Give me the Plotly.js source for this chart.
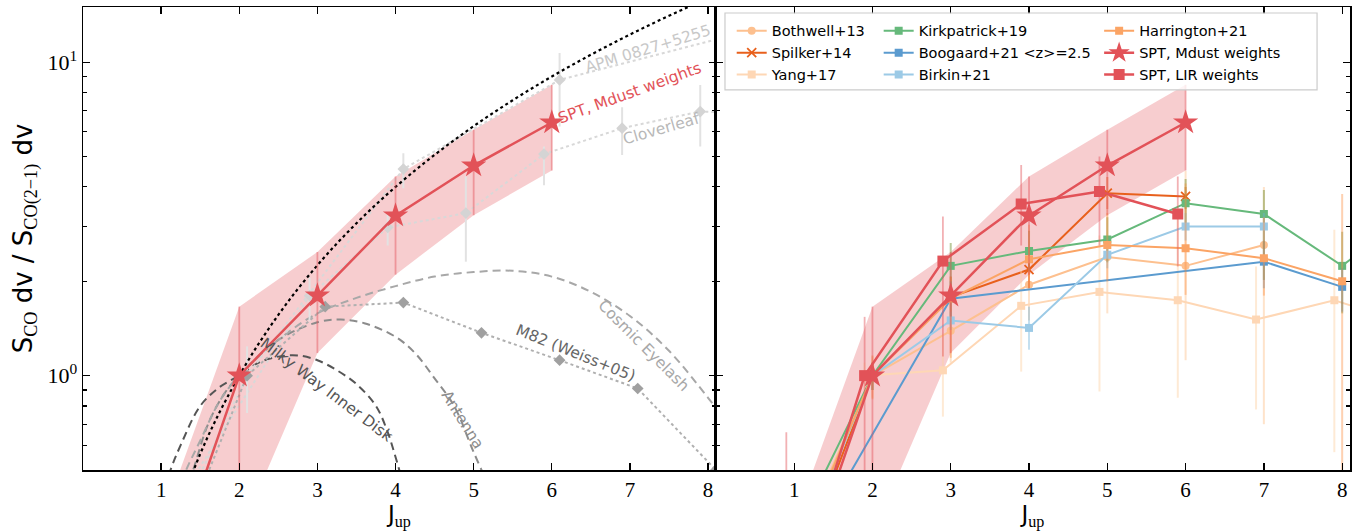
<!DOCTYPE html>
<html>
<head>
<meta charset="utf-8">
<script src="https://cdn.plot.ly/plotly-3.0.1.min.js"></script>
<style>html,body{margin:0;padding:0;background:#fff;}#chart{width:1359px;height:531px;}</style>
</head>
<body>
<div id="chart"></div>
<script>
// ---------------- DATA ----------------
// x tick labels
const xTicks = [1, 2, 3, 4, 5, 6, 7, 8];

// Thermalized (dotted black) curve
const thermJ   = [1, 1.5, 2, 2.5, 3, 3.5, 4, 4.5, 5, 5.5, 6, 6.5, 7, 7.5, 8, 8.5];
const thermVal = [0.25, 0.5625, 1, 1.5625, 2.25, 3.0625, 4, 5.0625, 6.25, 7.5625, 9, 10.5625, 12.25, 14.0625, 16, 18.0625];

// Milky Way inner disk (dashed, dark grey)
const mwJ   = [1.0, 1.12, 1.25, 1.5, 1.75, 2.0, 2.25, 2.5, 2.75, 3.0, 3.25, 3.5, 3.75, 3.9, 4.0, 4.1];
const mwVal = [0.40, 0.50, 0.60, 0.80, 0.92, 1.00, 1.10, 1.15, 1.16, 1.12, 1.04, 0.94, 0.80, 0.66, 0.55, 0.45];

// Antenna (dashed, mid grey)
const antJ   = [1.3, 1.41, 1.6, 1.8, 2.0, 2.5, 3.0, 3.3, 3.6, 4.0, 4.25, 4.5, 4.75, 5.0, 5.2];
const antVal = [0.42, 0.50, 0.70, 0.87, 1.00, 1.30, 1.48, 1.51, 1.47, 1.33, 1.18, 0.98, 0.80, 0.57, 0.44];

// Cosmic Eyelash (dashed, light grey)
const eyeJ   = [1.2, 1.32, 1.5, 1.75, 2.0, 2.5, 3.0, 3.5, 4.0, 4.5, 5.0, 5.5, 6.0, 6.5, 7.0, 7.5, 8.0, 8.3];
const eyeVal = [0.42, 0.50, 0.62, 0.83, 1.00, 1.30, 1.58, 1.77, 1.93, 2.07, 2.14, 2.16, 2.07, 1.85, 1.55, 1.20, 0.85, 0.68];

// M82 (Weiss+05)
const m82J   = [1.1, 2.1, 3.1, 4.1, 5.1, 6.1, 7.1, 8.1];
const m82Val = [0.24, 1.0, 1.66, 1.71, 1.37, 1.12, 0.91, 0.50];

// APM 0827+5255
const apmJ   = [1.1, 2.1, 4.1, 6.1, 9.1];
const apmVal = [0.30, 1.0, 4.56, 8.78, 13.7];
const apmHi  = [0.35, 1.24, 5.12, 10.7, 15.5];
const apmLo  = [0.25, 0.76, 3.96, 6.23, 12.0];

// Cloverleaf
const cloJ   = [0.9, 2.9, 3.9, 4.9, 5.9, 6.9, 7.9, 8.9];
const cloVal = [0.30, 1.80, 2.97, 3.30, 5.09, 6.16, 6.96, 6.80];
const cloHi  = [0.35, 2.05, 3.30, 4.32, 5.38, 7.18, 8.45, 8.0];
const cloLo  = [0.25, 1.49, 2.60, 2.31, 4.05, 5.06, 5.38, 5.8];

// SPT, Mdust weights
const sptMJ   = [1, 2, 3, 4, 5, 6];
const sptMVal = [0.19, 1.0, 1.80, 3.24, 4.68, 6.42];
const sptMHi  = [0.34, 1.66, 2.48, 4.32, 6.09, 8.47];
const sptMLo  = [0.05, 0.31, 1.18, 2.10, 3.25, 4.51];

// SPT, LIR weights
const sptLJ   = [0.9, 1.9, 2.9, 3.9, 4.9, 5.9];
const sptLVal = [0.16, 1.0, 2.32, 3.53, 3.87, 3.28];
const sptLHi  = [0.66, 1.54, 3.22, 4.70, 5.00, 4.32];
const sptLLo  = [0.05, 0.30, 1.15, 2.60, 2.60, 2.23];

// Bothwell+13
const botJ   = [1, 2, 3, 4, 5, 6, 7];
const botVal = [0.27, 1.0, 1.39, 1.95, 2.39, 2.24, 2.61];
const botHi  = [0.40, 1.15, 1.70, 2.50, 3.40, 4.50, 4.00];
const botLo  = [0.18, 0.85, 1.10, 1.50, 1.58, 1.12, 0.70];

// Spilker+14
const spiJ   = [1, 2, 3, 4, 5, 6];
const spiVal = [0.22, 1.0, 1.78, 2.18, 3.82, 3.73];
const spiHi  = [0.26, 1.10, 2.07, 2.50, 4.30, 4.00];
const spiLo  = [0.18, 0.90, 1.50, 1.90, 3.40, 3.40];

// Yang+17
const yanJ   = [1.9, 2.9, 3.9, 4.9, 5.9, 6.9, 7.9, 8.9];
const yanVal = [1.0, 1.04, 1.67, 1.85, 1.74, 1.51, 1.74, 1.45];
const yanHi  = [1.10, 1.37, 2.30, 2.80, 3.20, 2.23, 2.92, 2.50];
const yanLo  = [0.90, 0.74, 1.03, 0.89, 0.85, 0.78, 0.57, 0.60];

// Kirkpatrick+19
const kirJ   = [1, 2, 3, 4, 5, 6, 7, 8, 9];
const kirVal = [0.31, 1.0, 2.24, 2.50, 2.72, 3.55, 3.28, 2.24, 3.5];
const kirHi  = [0.35, 1.10, 2.65, 2.90, 3.20, 4.24, 3.91, 2.88, 4.0];
const kirLo  = [0.27, 0.90, 1.90, 2.15, 2.30, 3.00, 2.02, 1.58, 3.0];

// Boogaard+21 <z>=2.5
const booJ   = [1, 3, 7, 8];
const booVal = [0.24, 1.76, 2.31, 1.92];
const booHi  = [0.30, 2.00, 2.70, 2.20];
const booLo  = [0.20, 1.50, 1.90, 1.60];

// Birkin+21
const birJ   = [1, 2, 3, 4, 5, 6, 7];
const birVal = [0.25, 1.0, 1.50, 1.42, 2.43, 2.99, 2.99];
const birHi  = [0.30, 1.10, 1.60, 1.66, 2.70, 3.30, 3.30];
const birLo  = [0.20, 0.90, 1.40, 1.21, 2.20, 2.70, 2.70];

// Harrington+21
const harJ   = [1, 2, 3, 4, 5, 6, 7, 8];
const harVal = [0.26, 1.0, 1.76, 2.35, 2.61, 2.55, 2.37, 2.00];
const harHi  = [0.35, 1.16, 2.07, 3.03, 3.30, 4.10, 3.20, 3.80];
const harLo  = [0.20, 0.84, 1.14, 2.00, 2.00, 1.81, 1.80, 0.45];

// ---------------- HELPERS ----------------
const SANS = '"DejaVu Sans", sans-serif';
const SERIF = '"Liberation Serif", "DejaVu Serif", serif';
const RED = '#e25258';
function errY(v, hi, lo, color, th) {
  return {type: 'data', symmetric: false,
    array: v.map((d, i) => hi[i] - d), arrayminus: v.map((d, i) => d - lo[i]),
    color: color, thickness: th || 1.6, width: 0};
}
function band(xa, ya) {
  return {x: sptMJ.concat(sptMJ.slice().reverse()),
    y: sptMHi.concat(sptMLo.slice().reverse()),
    xaxis: xa, yaxis: ya, mode: 'lines', fill: 'toself',
    fillcolor: 'rgba(228,90,96,0.3)', line: {width: 0}, showlegend: false, hoverinfo: 'skip'};
}
function curve(x, y, color, dash, width) {
  return {x: x, y: y, xaxis: 'x', yaxis: 'y', mode: 'lines',
    line: {color: color, dash: dash, width: width || 2, shape: 'spline'}, showlegend: false};
}
function comp(name, x, y, hi, lo, color, sym, errColor, legend, msize) {
  return {x: x, y: y, xaxis: 'x2', yaxis: 'y2', mode: 'lines+markers', name: name,
    legend: legend, line: {color: color, width: 2},
    marker: {color: color, symbol: sym, size: msize || 8,
      line: {color: color, width: sym === 'x-thin' ? 1.8 : 0}},
    error_y: errY(y, hi, lo, errColor, 2)};
}

const traces = [];
// ---- left panel ----
traces.push(band('x', 'y'));
traces.push(curve(mwJ, mwVal, '#555555', '8px,5px', 2));
traces.push(curve(antJ, antVal, '#8c8c8c', '8px,5px', 2));
traces.push(curve(eyeJ, eyeVal, '#a8a8a8', '8px,5px', 2));
traces.push({x: cloJ, y: cloVal, xaxis: 'x', yaxis: 'y', mode: 'lines+markers', showlegend: false,
  line: {color: '#d8d8d8', dash: 'dot', width: 2},
  marker: {symbol: 'diamond', size: 9, color: '#d4d4d4'},
  error_y: errY(cloVal, cloHi, cloLo, '#e2e2e2', 2)});
traces.push({x: apmJ, y: apmVal, xaxis: 'x', yaxis: 'y', mode: 'lines+markers', showlegend: false,
  line: {color: '#d8d8d8', dash: 'dot', width: 2},
  marker: {symbol: 'diamond', size: 9, color: '#d4d4d4'},
  error_y: errY(apmVal, apmHi, apmLo, '#e2e2e2', 2)});
traces.push({x: m82J, y: m82Val, xaxis: 'x', yaxis: 'y', mode: 'lines+markers', showlegend: false,
  line: {color: '#b0b0b0', dash: 'dot', width: 2},
  marker: {symbol: 'diamond', size: 9, color: '#a0a0a0'}});
traces.push(curve(thermJ, thermVal, '#000000', 'dot', 2.2));
traces.push({x: sptMJ, y: sptMVal, xaxis: 'x', yaxis: 'y', mode: 'lines+markers', showlegend: false,
  line: {color: RED, width: 2.5},
  marker: {symbol: 'star', size: 19, color: RED},
  error_y: errY(sptMVal, sptMHi, sptMLo, 'rgba(226,82,88,0.45)', 1.8)});

// ---- right panel ----
traces.push(band('x2', 'y2'));
traces.push(comp('Bothwell+13', botJ, botVal, botHi, botLo, '#fdc08f', 'circle', 'rgba(253,174,107,0.35)', 'legend'));
traces.push(comp('Spilker+14', spiJ, spiVal, spiHi, spiLo, '#e8601c', 'x-thin', 'rgba(230,85,13,0.5)', 'legend', 9));
traces.push(comp('Yang+17', yanJ, yanVal, yanHi, yanLo, '#fed7b5', 'square', 'rgba(253,208,162,0.45)', 'legend'));
traces.push(comp('Kirkpatrick+19', kirJ, kirVal, kirHi, kirLo, '#66b97b', 'square', 'rgba(120,150,60,0.5)', 'legend2'));
traces.push(comp('Boogaard+21 <z>=2.5', booJ, booVal, booHi, booLo, '#5b9bcf', 'square', 'rgba(49,130,189,0.4)', 'legend2'));
traces.push(comp('Birkin+21', birJ, birVal, birHi, birLo, '#9ccae6', 'square', 'rgba(107,174,214,0.4)', 'legend2'));
traces.push(comp('Harrington+21', harJ, harVal, harHi, harLo, '#fba465', 'square', 'rgba(253,141,60,0.4)', 'legend3'));
traces.push({x: sptMJ, y: sptMVal, xaxis: 'x2', yaxis: 'y2', mode: 'lines+markers', name: 'SPT, Mdust weights',
  legend: 'legend3', line: {color: RED, width: 2.5},
  marker: {symbol: 'star', size: 19, color: RED},
  error_y: errY(sptMVal, sptMHi, sptMLo, 'rgba(226,82,88,0.45)', 1.8)});
traces.push({x: sptLJ, y: sptLVal, xaxis: 'x2', yaxis: 'y2', mode: 'lines+markers', name: 'SPT, LIR weights',
  legend: 'legend3', line: {color: RED, width: 2.5},
  marker: {symbol: 'square', size: 11, color: RED},
  error_y: errY(sptLVal, sptLHi, sptLLo, 'rgba(226,82,88,0.45)', 1.8)});

// ---------------- LAYOUT ----------------
const yRange = [Math.log10(0.5), Math.log10(15)];
const minorVals = [0.5, 0.6, 0.7, 0.8, 0.9, 2, 3, 4, 5, 6, 7, 8, 9];
function xax(domain, anchor) {
  return {domain: domain, anchor: anchor, range: [0, 8.1], tickmode: 'array', tickvals: xTicks,
    ticktext: xTicks.map(String), ticks: 'inside', ticklen: 7, tickwidth: 1.3, tickcolor: '#000',
    showline: true, linecolor: '#000', linewidth: 1.5, mirror: 'ticks', showgrid: false, zeroline: false,
    tickfont: {family: SERIF, size: 21, color: '#000'},
    title: {text: 'J<sub><span style="font-family:Liberation Serif">up</span></sub>', font: {family: SANS, size: 23, color: '#000'}, standoff: 4}};
}
function yax(anchor, labels) {
  const a = {anchor: anchor, type: 'log', range: yRange, tickmode: 'array', tickvals: [1, 10],
    showticklabels: labels, ticks: 'inside', ticklen: 7, tickwidth: 1.3, tickcolor: '#000',
    minor: {tickmode: 'array', tickvals: minorVals, ticks: 'inside', ticklen: 4, tickwidth: 1.1, tickcolor: '#000', showgrid: false},
    showline: true, linecolor: '#000', linewidth: 1.5, mirror: 'ticks', showgrid: false, zeroline: false,
    tickfont: {family: SERIF, size: 22, color: '#000'}};
  if (labels) a.ticktext = ['10<sup>0</sup>', '10<sup>1</sup>'];
  return a;
}
const ya = yax('x', true);
ya.title = {text: 'S<sub><span style="font-family:Liberation Serif">CO</span></sub> dv / S<sub><span style="font-family:Liberation Serif">CO(2−1)</span></sub> dv', font: {family: SANS, size: 26, color: '#000'}, standoff: 7};
const ya2 = yax('x2', false);

function ann(text, x, yv, angle, color, size) {
  return {text: text, x: x, y: Math.log10(yv), xref: 'x', yref: 'y', showarrow: false,
    textangle: angle, font: {family: SANS, size: size || 15, color: color}};
}
const annotations = [
  ann('APM 0827+5255', 7.23, 11.0, -17, '#c8c8c8', 15.5),
  ann('SPT, Mdust weights', 7.0, 8.0, -20, RED, 15.5),
  ann('Cloverleaf', 7.4, 6.1, -16, '#b8b8b8', 15.5),
  ann('M82 (Weiss+05)', 6.30, 1.18, 22, '#666666', 15.5),
  ann('Cosmic Eyelash', 7.18, 1.245, 45, '#a8a8a8', 15.5),
  ann('Antenna', 4.86, 0.723, 58, '#8c8c8c', 15.5),
  ann('Milky Way Inner Disk', 3.12, 0.90, 37, '#555555', 15.5)
];

const legFont = {family: SANS, size: 14.5, color: '#000'};
const legBase = {y: 0.983, xanchor: 'left', yanchor: 'top', bgcolor: 'rgba(0,0,0,0)', font: legFont, tracegroupgap: 0, itemwidth: 30};
const layout = {
  width: 1359, height: 531,
  margin: {l: 83, r: 9, t: 7, b: 61},
  paper_bgcolor: '#fff', plot_bgcolor: '#fff',
  xaxis: xax([0, 0.4995], 'y'),
  yaxis: ya,
  xaxis2: xax([0.4995, 1], 'y2'),
  yaxis2: ya2,
  annotations: annotations,
  shapes: [{type: 'rect', xref: 'paper', yref: 'paper', x0: 0.5067, x1: 0.974, y0: 0.821, y1: 0.987,
    line: {color: '#cccccc', width: 1.2}, fillcolor: 'rgba(255,255,255,0.8)', layer: 'above'}],
  legend:  Object.assign({x: 0.512}, legBase),
  legend2: Object.assign({x: 0.628}, legBase),
  legend3: Object.assign({x: 0.802}, legBase),
  hovermode: false
};

Plotly.newPlot('chart', traces, layout, {displayModeBar: false, staticPlot: true});
</script>
</body>
</html>
